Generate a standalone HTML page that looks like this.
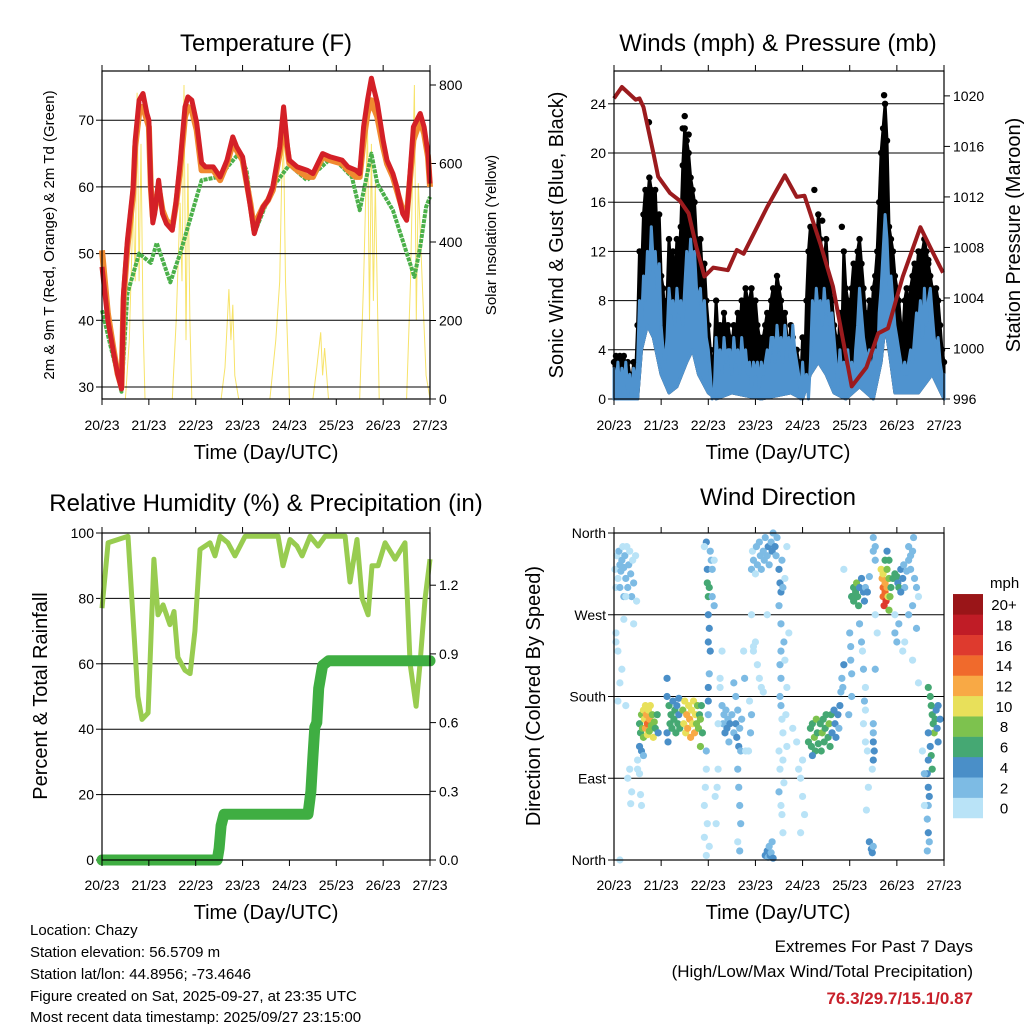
<!DOCTYPE html>
<html><head><meta charset="utf-8"><style>
html,body{margin:0;padding:0;background:#fff}
svg{display:block;font-family:"Liberation Sans",Arial,sans-serif}
</style></head><body>
<svg id="s" width="1024" height="1024" viewBox="0 0 1024 1024" xmlns="http://www.w3.org/2000/svg">
<rect x="0" y="0" width="1024" height="1024" fill="#fff"/>
<g id="p1"></g>
<g id="p2"></g>
<g id="p3"></g>
<g id="p4"></g>
<text x="266" y="51" font-size="24" text-anchor="middle">Temperature (F)</text>
<text x="778" y="51" font-size="24" text-anchor="middle">Winds (mph) &amp; Pressure (mb)</text>
<text x="266" y="511" font-size="24" text-anchor="middle">Relative Humidity (%) &amp; Precipitation (in)</text>
<text x="778" y="505" font-size="24" text-anchor="middle">Wind Direction</text>
<text x="266" y="459" font-size="20" text-anchor="middle">Time (Day/UTC)</text>
<text x="778" y="459" font-size="20" text-anchor="middle">Time (Day/UTC)</text>
<text x="266" y="919" font-size="20" text-anchor="middle">Time (Day/UTC)</text>
<text x="778" y="919" font-size="20" text-anchor="middle">Time (Day/UTC)</text>
<text transform="translate(54,235) rotate(-90)" font-size="15" text-anchor="middle">2m &amp; 9m T (Red, Orange) &amp; 2m Td (Green)</text>
<text transform="translate(496,235) rotate(-90)" font-size="15" text-anchor="middle">Solar Insolation (Yellow)</text>
<text transform="translate(563,235) rotate(-90)" font-size="20" text-anchor="middle">Sonic Wind &amp; Gust (Blue, Black)</text>
<text transform="translate(1020,235) rotate(-90)" font-size="20" text-anchor="middle">Station Pressure (Maroon)</text>
<text transform="translate(47,696) rotate(-90)" font-size="20" text-anchor="middle">Percent &amp; Total Rainfall</text>
<text transform="translate(540,696) rotate(-90)" font-size="20" text-anchor="middle">Direction (Colored By Speed)</text>
<g font-size="15">
<text x="30" y="935">Location: Chazy</text>
<text x="30" y="957">Station elevation: 56.5709 m</text>
<text x="30" y="979">Station lat/lon: 44.8956; -73.4646</text>
<text x="30" y="1001">Figure created on Sat, 2025-09-27, at 23:35 UTC</text>
<text x="30" y="1022">Most recent data timestamp: 2025/09/27 23:15:00</text>
</g>
<text x="973" y="952" font-size="17" text-anchor="end">Extremes For Past 7 Days</text>
<text x="973" y="977" font-size="17" text-anchor="end">(High/Low/Max Wind/Total Precipitation)</text>
<text x="973" y="1004" font-size="17" font-weight="bold" fill="#c8202a" text-anchor="end">76.3/29.7/15.1/0.87</text>
<text x="990" y="588" font-size="15">mph</text>
<g id="cb"></g>
</svg>
<script>
// ---------- data ----------
const dayLabels=["20/23","21/23","22/23","23/23","24/23","25/23","26/23","27/23"];
const tempHours=[0,3,6,8,10,11,13,16,17,19,20,21,23,24,25,26,27,29,31,33,36,38,40,42.5,44,46,48.5,51,53,57,60.5,64,67,69,72,76,78,80,82.5,85,87.5,91,93,95,96,100,105,108,113,117,123,126,130,132,134,136,138,139,141,144,146,149,151,154,156,158,159.5,163,165,167,168];
const temp2m=[48,40,35,32,29.7,44,52,60,67,73,73.5,74,71,70,60,54.6,56,61,56,54.5,53.5,58,63.6,72,73.5,73,69.6,63.6,63,63,61.5,64,67.5,66,64.5,57,53,55,57,58,60,66,72,66,64,63,62.5,62,65,64.5,64,63,62.5,62,69,73,76.3,75,72.6,67,64,62,60,56,55,63,69,71,69,65,60.5];
const temp9m=[50.5,41,35.5,32,30,43,51,59,66,71,72,72,70,69,60,55.5,56.5,60,56.5,55,54,57.5,62.5,70.5,72,71.5,68.5,62.5,62.5,62.5,61,63.5,66.5,65.5,64,57.5,53.5,55.5,57,58,59.5,65,70,65.5,63.5,62.5,61.5,61.5,64.5,64,63.5,62.5,61.5,61.5,67,71,73,72,70.5,66,63.5,61.5,59.5,56.5,55.5,62,67,70,68,64.5,60];
const dewHours=[0,10,13,19,25,28,35,40,46,51,60,70,74,78,87.5,96,105,118,128,132,138,141,149,160,163,166,168];
const dewValues=[41.5,29.3,44,50,48.6,51.6,45.7,50,56,61,61.5,65,62.5,53,60,63.3,61,64.5,61.5,56.5,65,60.5,56.5,46.5,51,57,58.5];
const solarHours=[0,12,14,16,17,18,19,20,21,22,36,38,40,41,42,43,44,45,46,61,63,65,66,67,68,70,86,89,91,92,93,94,96,108,110,112,113,114,116,132,134,136,137,138,139,140,142,156,158,160,161,162,164,166,168];
const solarValues=[0,0,150,500,300,780,300,650,200,0,0,200,500,300,800,150,600,200,0,0,80,280,150,240,60,0,0,150,300,550,650,300,0,0,80,170,60,130,0,0,300,700,200,650,250,550,0,0,300,800,200,550,300,60,0];
const windHours=Array.from({length:169},(_,i)=>i);
const windValues=[2.5,1,3,0.5,2.5,1,3,0.5,2,0,2.5,1,3,
8,6,10,8,12,10,14,
11,12,9,11,6,4,3,5,
9,7,8,6,9,7,8,6,9,
12,10,13,11,12,9,8,
9,6,8,5,4,2,
0,0.5,
5,3,4,2,5,3,4,
4,2,5,3,4,2,5,3,4,2,
3,1,3,2,3,1,3,2,3,4,3,5,
5,3,6,4,5,3,6,4,5,3,6,4,3,
2,0,3,0.5,2,0,3,
8,6,9,7,8,6,9,7,8,6,7,5,
3,1,4,2,3,0.5,4,2,3,1,4,6,
9,7,5,4,3,4,2,3,4,2,
7,9,12,15,13,9,10,
8,6,5,4,3,2,3,2,3,4,3,
5,7,6,8,5,9,6,8,9,7,5,
4,5,3,2,2];
const gustValues=[3,3.5,2.5,3.5,3,3.5,2.5,3,2,1,3,2,6,
12,10,15,17,16,18,17,
16,17,13,15,10,9,6,8,
13,10,12,9,13,11,14,19,22,
21,20,18,17,16,13,12,
13,10,11,8,6,4,
2,4,
8,5,6,4,7,5,6,
5,4,6,4,7,5,8,7,9,8,
8,9,7,8,6,5,4,5,6,7,6,8,
9,8,10,9,8,6,7,5,4,6,5,3,4,
3,1,5,2,8,12,14,
13,14,12,15,13,12,11,13,10,9,8,6,
5,3,7,5,12,9,8,7,9,11,10,12,
13,11,9,7,6,8,6,9,10,12,
16,20,22,24,21,14,13,
12,10,9,8,6,5,8,9,7,9,10,
11,10,12,11,12,13,12,11,10,9,8,
9,8,6,4,3];
const windLowHours=[0,12,14,17,20,24,28,32,37,40,43,48,52,60,75,90,96,100,104,108,112,118,125,132,136,138,140,143,155,162,168];
const windLowValues=[0,0,4,6,5,2,0.5,1,3,4,2,0.5,0,0.5,0,0.5,0,2,3,2,0.5,0,1,0,3,6,4,0.5,0.5,2,0];
const gustOutHours=[17.8,35,36,38,102,106,116,136.5,137.5,160];
const gustOutValues=[22.5,22,23,21.5,17,14.5,14,18,24.7,11.3];
const presHours=[0,4,11,13,15,20,22.5,28.5,33.5,38,42,46,50.5,58,62.5,66,78,87,93,97,105,111.5,121,128.5,134.5,139.5,147,156,161,167.5];
const presValues=[1019.8,1020.7,1019.7,1019.8,1019.1,1015.5,1013.6,1012.3,1011.7,1010.7,1008,1005.7,1006.4,1006.2,1007.8,1007.5,1011.2,1013.7,1012,1012.1,1008.3,1004.9,997,998.5,1001.2,1001.6,1005.7,1009.6,1008,1006];
const rhHours=[0,3.1,13.3,18.4,20.5,23.6,24.6,26.6,28.7,31.3,34.8,36.9,38.9,42.5,45.1,47.6,50.2,55.3,57.9,60.5,64.5,68.1,73.3,90.2,92.7,96.3,99.9,102.5,106.6,110.7,114.2,124.5,127,130.6,133.2,136.3,138.3,141.4,145,150.1,155.2,157.8,160.9,162.9,165.5,168];
const rhValues=[77,97,99,50,43,45,60,92,75,78,72,76,62,58,57,70,95,97,93,99,97,93,99,99,90,98,96,93,99,96,99,99,85,98,80,75,90,90,97,92,97,60,47,60,80,92];
const precipHours=[0,59,60,61,62.5,105.5,107,108,109,110,111,113,116,168];
const precipValues=[0,0,0.05,0.15,0.2,0.2,0.3,0.45,0.58,0.6,0.75,0.85,0.87,0.87];
const dirHours=[0.5,1,1.5,2,2.5,3,3,3.5,4,4.5,5,5,5.5,6,6.5,7,7.5,8,8.5,9,9.5,10,11,11.5,1,2,4,3,2,6,1,8,9,7,8.5,6,10,5,3,
13,13.5,14,14.5,15,15,15.5,16,16,16.5,17,17,17.5,18,18,18.5,19,19.5,20,20.5,21,22,22.5,14,15,13,12,12,13,13.5,14,
27,27,27.5,27,28,28.5,29,29.5,30,30.5,31,31.5,32,32.5,33,33.5,33,
35,35.5,36,36.5,37,37.5,38,38.5,39,39.5,40,40.5,41,41.5,42,42.5,43,43.5,44,44.5,45,44,
47,47.5,48,48.5,47.5,48,48.5,48,49,48.5,48,48,48,49,49.5,50,50,51,51,47,47,46.5,46,47.5,46,48.5,47,46,
55,55.5,56,56.5,57,57.5,58,58.5,59,60,61,62,62.5,63,63.5,64,64.5,65,53,53,52.5,51.5,52,54,55,54,62,61,63,63.5,64,64.5,63,64,66,67,66.5,
70,70.5,71,72,72.5,73,74,74.5,75,76,76.5,77,78,78.5,79,80,80.5,81,82,82.5,83,84,84.5,85,86,85.5,87,88,70,72,73,74,71,75,76,69,70,71,69.5,68.5,78,
84,85,85,84.5,85,84.5,85,85.5,86,84,84.5,84,85,86.5,87,88,87.5,86,86.5,85.5,86,89,88,
77,78,78.5,79,79.5,80,80.5,81,
99,100,100.5,101,102,102.5,103,103.5,104,105,105.5,106,106.5,107,107.5,108,109,109.5,110,110.5,111,112,112.5,113,114,114.5,115,115.5,116,116.5,117,101,96,95,94,96,97,95,93,91,
120,120.5,120.5,121,121,119.5,121,122,117,
121,122,122,123,123.5,124,124.5,125,126,127,127.5,128,129,130,125,126,126.5,127,128,127.5,128,127,128,129,129.5,128.5,
130,131,131.5,132,
132,132,132,132.5,132,131.5,133,134,133,132,132,133,133,
136,136.5,137,137,137.5,138,138,138.5,137,139,139.5,140,140,139,138,139,140,141,140.5,
142,143,144,144.5,145,146,147,148,146,147.5,149,150,151,152,150,152.5,151,153,154,155,152,150,145,144,143,147,148,152,155,154,143,
160,161,161.5,162,162.5,163,163.5,164,164.5,165,165,166,160,161,161.5,162,160,159.5,160,160.5,160,159.5,160,160.5,159.5,158,157,158];
const dirValues=[320,300,335,310,340,325,300,318,330,345,322,290,335,310,345,300,325,340,315,290,330,305,335,285,250,230,210,195,175,170,240,100,75,90,62,290,260,265,0,
150,140,160,145,165,135,155,170,145,160,150,138,165,155,142,170,148,160,135,152,145,160,140,120,115,125,110,100,95,72,60,
200,180,130,140,170,150,160,145,175,155,165,140,170,150,160,145,178,
165,150,175,140,160,145,170,155,135,165,150,175,140,160,150,170,145,160,155,170,140,125,
350,320,290,300,305,270,255,240,230,205,190,175,160,340,330,290,320,280,330,120,100,80,60,40,25,15,5,345,
170,150,160,140,165,145,155,130,150,160,140,150,135,165,125,145,120,155,150,100,80,70,40,200,230,190,180,195,100,80,60,40,20,10,230,120,200,
320,340,330,315,345,325,350,335,320,340,330,355,335,345,325,350,340,360,345,335,355,320,305,295,300,330,310,345,270,240,215,200,235,190,185,175,160,230,140,120,270,
280,260,230,215,200,180,170,155,140,120,100,75,60,240,220,190,160,110,85,50,30,250,125,
5,10,3,15,5,8,20,2,
130,145,125,150,135,120,155,140,128,150,120,140,155,130,145,160,135,150,125,160,140,165,150,135,160,145,170,185,200,190,215,115,110,90,100,70,50,30,130,145,
250,235,220,205,180,160,290,300,320,
290,285,300,295,305,290,280,300,310,295,285,300,295,312,260,240,230,210,190,175,165,150,130,120,80,55,
20,12,8,15,
150,140,130,120,110,100,210,250,270,340,355,330,345,
320,310,300,290,280,295,305,285,315,300,290,275,310,320,330,340,330,300,290,
310,315,312,305,300,320,310,300,295,325,318,330,335,340,345,355,320,310,300,290,280,270,260,240,250,230,240,220,195,255,270,
190,180,170,160,150,140,155,165,145,130,170,155,140,125,115,100,110,95,80,70,60,45,30,20,10,95,120,60];
const dirSpeeds=[1,1,1,1,2,2,3,2,2,1,2,3,2,2,1,2,2,1,2,2,1,2,1,1,1,1,1,1,1,1,0,1,1,1,0,1,1,1,1,
6,7,8,9,10,8,11,10,12,13,14,11,10,12,9,10,8,9,10,8,7,6,5,4,2,4,1,1,1,1,1,
4,4,4,4,6,6,7,6,5,7,6,7,4,6,5,6,4,
9,10,10,11,12,12,10,12,12,11,11,10,12,10,9,8,9,7,8,6,6,9,
4,4,6,6,7,4,4,4,4,3,4,5,3,2,2,2,3,2,1,2,1,1,1,1,1,1,1,1,
3,3,3,4,3,4,3,3,4,3,2,4,4,3,4,3,3,3,1,1,1,1,1,1,1,1,3,2,3,3,3,2,1,2,1,1,2,
2,1,2,1,2,2,2,2,2,3,2,2,3,4,2,3,4,3,4,3,3,4,4,4,3,2,1,1,1,1,1,1,1,1,1,1,2,1,2,1,1,
2,2,2,3,3,3,2,1,1,1,1,2,1,2,1,1,1,1,1,1,1,1,1,
4,4,3,3,4,3,3,4,
7,6,6,7,8,7,8,6,7,6,7,8,7,6,7,7,6,8,6,7,5,5,4,5,4,3,4,3,3,3,4,4,1,1,1,1,1,1,1,1,
3,3,3,3,2,2,4,2,1,
6,6,7,6,8,6,6,4,4,4,4,3,4,3,2,2,1,2,1,2,1,1,1,1,1,1,
4,4,4,3,
3,3,4,4,4,1,2,1,1,2,3,3,2,
10,12,14,15,16,14,13,16,11,12,10,8,9,8,7,5,6,7,8,
6,6,7,5,6,4,4,3,4,2,2,2,2,3,3,3,3,2,2,1,2,2,3,3,3,1,1,1,1,2,1,
6,6,7,6,7,8,6,4,4,4,4,4,4,5,6,6,4,4,4,4,3,2,4,3,3,3,1,1];
const speedLabels=["0","2","4","6","8","10","12","14","16","18","20+"];
const speedColors=["#b9e3f7","#7dbbe4","#4a8fc8","#45a873","#7dc24e","#e8e05a","#f8a945","#f06a2c","#de3a2e","#c01c26","#9a1518"];

// ---------- helpers ----------
const NS="http://www.w3.org/2000/svg";
function mk(tag,attrs,parent){const e=document.createElementNS(NS,tag);for(const k in attrs)e.setAttribute(k,attrs[k]);parent.appendChild(e);return e;}
function pathOf(xs,ys,fx,fy){return xs.map((h,i)=>(i?'L':'M')+fx(h).toFixed(1)+','+fy(ys[i]).toFixed(1)).join('');}
function frame(g,x0,y0,x1,y1,name,dayY){
  const r=mk('rect',{x:x0,y:y0,width:x1-x0,height:y1-y0,fill:'none',stroke:'#000','stroke-width':1.2},g);
  
  
  for(let d=0;d<=7;d++){
    const x=x0+d*(x1-x0)/7;
    const tb=mk('line',{x1:x,y1:y1,x2:x,y2:y1+6,stroke:'#000'},g);
    
    
    const tt=mk('line',{x1:x,y1:y0,x2:x,y2:y0-6,stroke:'#000'},g);
    
    
    const lb=mk('text',{x:x,y:dayY,'font-size':14,'text-anchor':'middle'},g);
    lb.textContent=dayLabels[d];
    
    
  }
}
function yaxis(g,x0,x1,vals,labels,fy,side,grid,fs){
  vals.forEach((v,i)=>{
    const y=fy(v);
    if(grid){const gl=mk('line',{x1:x0,y1:y,x2:x1,y2:y,stroke:'#000','stroke-width':1},g);
      
      }
    const xe=side==='l'?x0:x1, dx=side==='l'?-6:6;
    const t=mk('line',{x1:xe,y1:y,x2:xe+dx,y2:y,stroke:'#000'},g);
    
    
    const lb=mk('text',{x:xe+(side==='l'?-8:9),y:y+5,'font-size':fs||14,'text-anchor':side==='l'?'end':'start'},g);
    lb.textContent=labels[i];
    
    
  });
}
function speedIdx(s){return Math.min(10,Math.floor(s/2));}

// ---------- panel 1: temperature ----------
(function(){
  const g=document.getElementById('p1');
  const X=h=>102+h*328/168, Y=t=>387-(t-30)*6.67, YS=w=>399-w*0.3925;
  const cp=mk('clipPath',{id:'c1'},g); mk('rect',{x:102,y:71,width:328,height:328},cp);
  const sol=mk('path',{d:pathOf(solarHours,solarValues,X,YS),fill:'none',stroke:'#f7e36a','stroke-width':1,'clip-path':'url(#c1)'},g);
  
  
  yaxis(g,102,430,[30,40,50,60,70],["30","40","50","60","70"],Y,'l',true);
  yaxis(g,102,430,[0,200,400,600,800],["0","200","400","600","800"],YS,'r',false);
  const dw=mk('path',{d:pathOf(dewHours,dewValues,X,Y),fill:'none',stroke:'#4bb04a','stroke-width':4,'stroke-dasharray':'4 1','stroke-linejoin':'round'},g);
  
  
  const o=mk('path',{d:pathOf(tempHours,temp9m,X,Y),fill:'none',stroke:'#f08a30','stroke-width':6,'stroke-linejoin':'round'},g);
  
  
  const r=mk('path',{d:pathOf(tempHours,temp2m,X,Y),fill:'none',stroke:'#d42027','stroke-width':5,'stroke-linejoin':'round'},g);
  
  
  frame(g,102,71,430,399,'temperature',430);
})();

// ---------- panel 2: winds ----------
(function(){
  const g=document.getElementById('p2');
  const X=h=>614+h*330/168, Y=v=>399-v*12.3, YP=p=>399-(p-996)*12.63;
  yaxis(g,614,944,[0,4,8,12,16,20,24],["0","4","8","12","16","20","24"],Y,'l',true);
  yaxis(g,614,944,[996,1000,1004,1008,1012,1016,1020],["996","1000","1004","1008","1012","1016","1020"],YP,'r',false);
  let gd=pathOf(windHours,gustValues,X,Y);
  for(let i=windLowHours.length-1;i>=0;i--)gd+='L'+X(windLowHours[i]).toFixed(1)+','+Y(windLowValues[i]).toFixed(1);
  const ga=mk('path',{d:gd+'Z',fill:'#000',stroke:'#000','stroke-width':3,'stroke-linejoin':'round'},g);
  
  
  windHours.forEach((h,i)=>{
    const c=mk('circle',{cx:X(h),cy:Y(gustValues[i]),r:3.2,fill:'#000'},g);
    
    
  });
  gustOutHours.forEach((h,i)=>{
    const c=mk('circle',{cx:X(h),cy:Y(gustOutValues[i]),r:3.2,fill:'#000'},g);
    
    
  });
  let d=pathOf(windHours,windValues,X,Y);
  for(let i=windLowHours.length-1;i>=0;i--)d+='L'+X(windLowHours[i]).toFixed(1)+','+Y(windLowValues[i]).toFixed(1);
  const wa=mk('path',{d:d+'Z',fill:'#4f93cf',stroke:'#4f93cf','stroke-width':3,'stroke-linejoin':'round'},g);
  
  
  const p=mk('path',{d:pathOf(presHours,presValues,X,YP),fill:'none',stroke:'#9b1b1e','stroke-width':4,'stroke-linejoin':'round'},g);
  
  
  frame(g,614,71,944,399,'winds',430);
})();

// ---------- panel 3: humidity ----------
(function(){
  const g=document.getElementById('p3');
  const X=h=>102+h*328/168, Y=v=>860-v*3.27, YP=v=>860-v*229;
  yaxis(g,102,430,[0,20,40,60,80,100],["0","20","40","60","80","100"],Y,'l',true);
  yaxis(g,102,430,[0,0.3,0.6,0.9,1.2],["0.0","0.3","0.6","0.9","1.2"],YP,'r',false);
  const rh=mk('path',{d:pathOf(rhHours,rhValues,X,Y),fill:'none',stroke:'#98cc50','stroke-width':5,'stroke-linejoin':'round'},g);
  
  
  const pr=mk('path',{d:pathOf(precipHours,precipValues,X,YP),fill:'none',stroke:'#3fae42','stroke-width':11,'stroke-linecap':'round','stroke-linejoin':'round'},g);
  
  
  frame(g,102,533,430,860,'humidity',890);
})();

// ---------- panel 4: wind direction ----------
(function(){
  const g=document.getElementById('p4');
  const X=h=>614+h*330/168, Y=d=>860-d*0.9083;
  yaxis(g,614,944,[0,90,180,270,360],["North","East","South","West","North"],Y,'l',true);
  dirHours.forEach((h,i)=>{
    const c=mk('circle',{cx:X(h),cy:Y(dirValues[i]),r:3.6,fill:speedColors[speedIdx(dirSpeeds[i])]},g);
    
    
  });
  frame(g,614,533,944,860,'wind-direction',890);
  const cb=document.getElementById('cb');
  speedLabels.forEach((l,i)=>{
    const y=818-(i+1)*20.36;
    const r=mk('rect',{x:953,y:y,width:30,height:20.6,fill:speedColors[i]},cb);
    
    
    const t=mk('text',{x:1004,y:y+16,'font-size':15,'text-anchor':'middle'},cb);
    t.textContent=l;
    
    
  });
})();
</script>
</body></html>
